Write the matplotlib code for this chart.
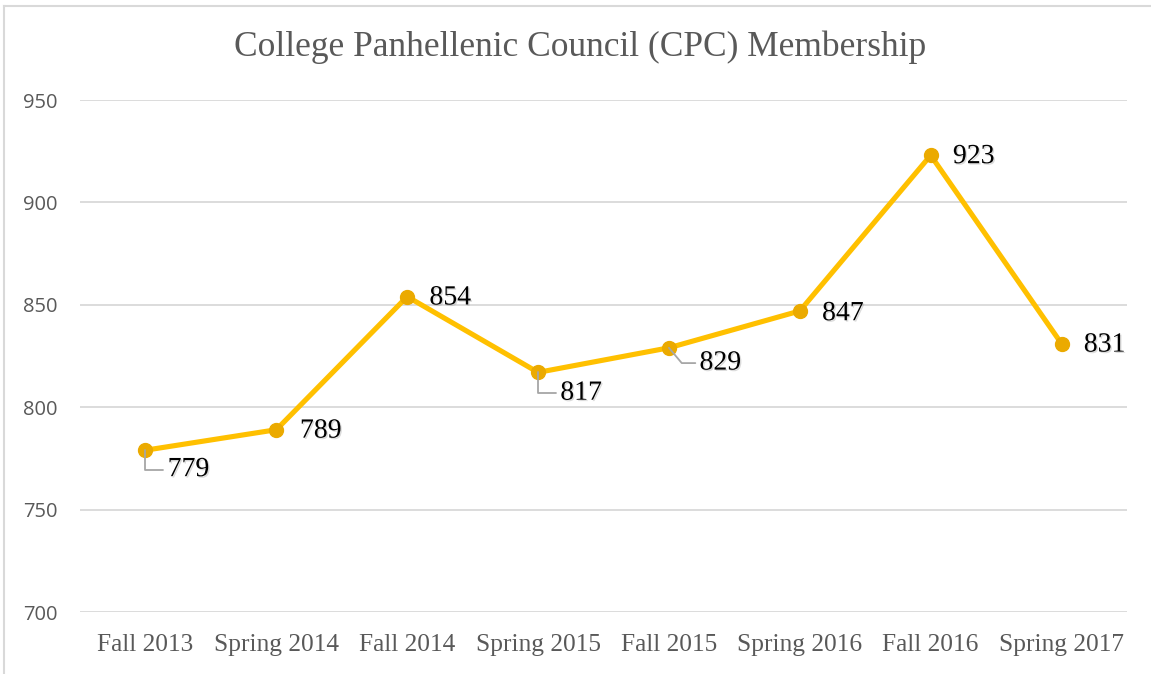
import matplotlib
matplotlib.use("Agg")
import matplotlib.pyplot as plt
import matplotlib.patheffects as pe
from matplotlib.lines import Line2D

categories = ["Fall 2013", "Spring 2014", "Fall 2014", "Spring 2015",
              "Fall 2015", "Spring 2016", "Fall 2016", "Spring 2017"]
members = [779, 789, 854, 817, 829, 847, 923, 831]
y_ticks = [700, 750, 800, 850, 900, 950]
title = "College Panhellenic Council (CPC) Membership"

# label offsets (points) and leader styles
label_offsets = [(16, -14), (17, -1), (16, -1), (16, -15), (22, -11), (16, -2), (16, -1), (16, -1)]
leader_styles = ["angle,angleA=0,angleB=90,rad=0", None, None,
                 "angle,angleA=0,angleB=90,rad=0", "angle,angleA=0,angleB=-50,rad=0",
                 None, None, None]

fig = plt.figure(figsize=(11.51, 6.74), dpi=100)
W, H = 1151, 674
ax = fig.add_axes([80 / W, 62 / H, (1127 - 80) / W, (574 - 62) / H])

x = list(range(len(categories)))
ax.plot(x, members, color="#FFC000", lw=3.7, solid_capstyle="round", zorder=3)
ax.plot(x, members, ls="none", marker="o", ms=10, mfc="#EBAA00", mec="#EBAA00", zorder=4)

ax.set_xlim(-0.5, len(categories) - 0.5)
ax.set_ylim(700, 950)
ax.set_yticks(y_ticks)
ax.set_xticks(x)
ax.set_xticklabels(categories, fontfamily="Liberation Serif", fontsize=18.3, color="#595959")
ax.set_yticklabels([str(t) for t in y_ticks], fontfamily="Open Sans", fontsize=14.5, color="#595959")
ax.tick_params(axis="both", length=0)
ax.tick_params(axis="x", pad=16)
ax.tick_params(axis="y", pad=16)
ax.grid(axis="y", color="#D9D9D9", lw=1.3)
ax.set_axisbelow(True)
for s in ax.spines.values():
    s.set_visible(False)

shadow = [pe.SimplePatchShadow(offset=(1, -1), shadow_rgbFace="#999999", alpha=0.35), pe.Normal()]
for xi, v, off, st in zip(x, members, label_offsets, leader_styles):
    arrow = None
    if st is not None:
        arrow = dict(arrowstyle="-", color="#A6A6A6", lw=1.3, connectionstyle=st,
                     relpos=(0, 0.5), shrinkA=1, shrinkB=0)
    ax.annotate(str(v), xy=(xi, v), xytext=off, textcoords="offset points",
                ha="left", va="center", fontfamily="Liberation Serif", fontsize=20,
                color="#000000", arrowprops=arrow, zorder=5, path_effects=shadow)

fig.text(580 / W, 1 - 47 / H, title, ha="center", va="center",
         fontfamily="Liberation Serif", fontsize=25.5, color="#595959")

# outer frame (top & left edges visible)
fig.add_artist(Line2D([3.5 / W, 1], [1 - 5.5 / H, 1 - 5.5 / H], transform=fig.transFigure,
                      color="#D9D9D9", lw=1.5))
fig.add_artist(Line2D([3.5 / W, 3.5 / W], [0, 1 - 5.5 / H], transform=fig.transFigure,
                      color="#D9D9D9", lw=1.5))

fig.savefig("out.png", dpi=100)
